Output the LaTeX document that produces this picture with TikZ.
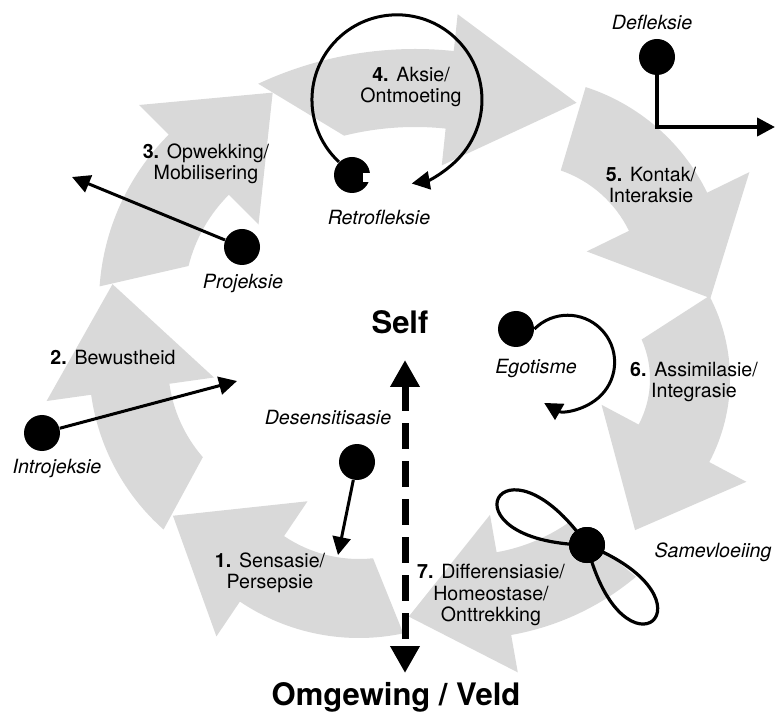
\documentclass[tikz,border=0pt]{standalone}
\usepackage{fontspec}
\setmainfont{TeX Gyre Heros}
\usetikzlibrary{arrows.meta}
\definecolor{ringgray}{RGB}{217,217,217}
% centre, inner r, outer r, tail angle out, tail angle in, head angle, tip angle, tip r, head overhang
\newcommand{\cyclearrow}[9]{%
  \fill[ringgray,shift={(#1)}] (#4:#3) arc[start angle=#4,end angle=#6,radius=#3]
    -- (#6:{#3+#9}) -- (#7:#8) -- (#6:{#2-#9}) -- (#6:#2)
    arc[start angle=#6,end angle=#5,radius=#2] -- cycle;}
\newcommand{\stepno}[1]{\textbf{#1.}\hspace{0.4em}}

\begin{document}
\begin{tikzpicture}[x=0.5pt,y=-0.5pt,
  dot/.style={circle,fill=black,inner sep=0pt,minimum size=18pt},
  txt/.style={font=\fontsize{9.8}{10.6}\selectfont,align=center,inner sep=0pt},
  itxt/.style={font=\fontsize{9.8}{10.6}\selectfont\itshape,inner sep=0pt},
  big/.style={font=\fontsize{15.5}{18}\selectfont\bfseries,inner sep=0pt},
  conn/.style={line width=1.5pt,-{Triangle[length=9pt,width=9pt]}}]
\useasboundingbox (0,0) rectangle (775,715);

\cyclearrow{359,425}{134}{213}{78}{84}{124}{154}{207}{42}
\cyclearrow{310,364}{142}{221}{131.5}{139}{172}{202}{213}{45}
\cyclearrow{337,303}{153}{238}{184}{194}{225}{253}{220}{42}
\cyclearrow{415,420}{293}{371}{245}{256}{276}{297}{356}{37}
\cyclearrow{522,283}{119}{206}{-72}{-71}{-26}{4.6}{189}{47}
\cyclearrow{553,379}{97}{177}{-28}{-24}{28}{61.5}{172}{42}
\cyclearrow{465,373}{182}{266}{50}{55}{80}{103}{250}{38}

\node[txt] (step1) at (270,573) {\stepno{1}Sensasie/\\Persepsie};
\node[txt] (step2) at (113,358) {\stepno{2}Bewustheid};
\node[txt] (step3) at (206,164) {\stepno{3}Opwekking/\\Mobilisering};
\node[txt] (step4) at (411,87) {\stepno{4}Aksie/\\Ontmoeting};
\node[txt] (step5) at (651,185) {\stepno{5}Kontak/\\Interaksie};
\node[txt] (step6) at (694,382) {\stepno{6}Assimilasie/\\Integrasie};
\node[txt] (step7) at (491,595) {\stepno{7}Differensiasie/\\Homeostase/\\Onttrekking};

\node[big] (self) at (400,322) {Self};
\node[big] (veld) at (396,697) {Omgewing / Veld};

\coordinate (selfend) at (405,360);
\coordinate (veldend) at (405,673);
\draw[line width=3.5pt,dash pattern=on 13pt off 6pt,
  {Triangle[length=13.5pt,width=14pt]}-{Triangle[length=13.5pt,width=14pt]}] (selfend) -- (veldend);

\node[dot] (intro) at (42,433) {};
\node[dot] (proj) at (242,247) {};
\node[dot] (retro) at (352,175) {};
\node[dot] (defl) at (657,57) {};
\node[dot] (desens) at (357,462) {};
\node[dot] (ego) at (516,329) {};

\coordinate (introend) at (237,381);
\coordinate (projend) at (72,177);
\coordinate (desensend) at (338,555);
\coordinate (deflbend) at (657,127);
\coordinate (deflend) at (775,127);

\draw[conn] (intro) -- (introend);
\draw[conn] (proj) -- (projend);
\draw[conn] (desens) -- (desensend);
\draw[conn,line width=2pt] (defl) -- (deflbend) -- (deflend);
\draw[conn] (retro.north west) arc[start angle=133,end angle=440,radius=85];
\draw[conn] (ego.east) arc[start angle=225,end angle=480,radius=47];
\fill[white] (363,173) rectangle (372,182);

\node[dot] (samev) at (587,545) {};
\draw[line width=1.6pt] (samev.center) .. controls +(181:150) and +(235:150) .. (samev.center);
\draw[line width=1.6pt] (samev.center) .. controls +(22:150) and +(76:150) .. (samev.center);
\node[dot] at (samev) {};

\node[itxt] (introtxt) at (57,468) {Introjeksie};
\node[itxt] (projtxt) at (243,283) {Projeksie};
\node[itxt] (retrotxt) at (379,217) {Retrofleksie};
\node[itxt] (defltxt) at (652,22) {Defleksie};
\node[itxt] (desenstxt) at (328,418) {Desensitisasie};
\node[itxt] (egotxt) at (536,368) {Egotisme};
\node[itxt] (samevtxt) at (713,552) {Samevloeiing};
\end{tikzpicture}
\end{document}
